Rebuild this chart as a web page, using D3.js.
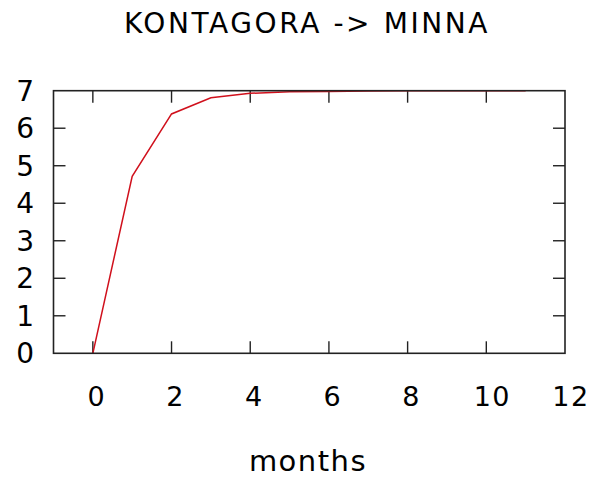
<!DOCTYPE html>
<html>
<head>
<meta charset="utf-8">
<script src="https://cdn.jsdelivr.net/npm/d3@7"></script>
<style>
  body { margin: 0; background: #fff; }
  text { font-family: "DejaVu Sans", Verdana, sans-serif; fill: #000; }
</style>
</head>
<body>
<script>
// data
var months = [0, 1, 2, 3, 4, 5, 6, 7, 8, 9, 10, 11];
var values = [0, 4.72, 6.38, 6.81, 6.93, 6.97, 6.98, 6.99, 7, 7, 7, 7];
var xTicks = [0, 2, 4, 6, 8, 10, 12];
var yTicks = [0, 1, 2, 3, 4, 5, 6, 7];

var width = 594, height = 477;
var margin = { top: 90.7, right: 29, bottom: 123.7, left: 53.5 };

var svg = d3.select("body").append("svg")
    .attr("width", width)
    .attr("height", height);

var x = d3.scaleLinear().domain([-1, 12]).range([margin.left, width - margin.right]);
var y = d3.scaleLinear().domain([0, 7]).range([height - margin.bottom, margin.top]);

var tickLen = 12;

// inward ticks, top and bottom (skip the ones on the border)
xTicks.filter(function(d) { return d > -1 && d < 12; }).forEach(function(d) {
    svg.append("line")
        .attr("x1", x(d)).attr("x2", x(d))
        .attr("y1", y(0)).attr("y2", y(0) - tickLen)
        .attr("stroke", "#222").attr("stroke-width", 1.4);
    svg.append("line")
        .attr("x1", x(d)).attr("x2", x(d))
        .attr("y1", y(7)).attr("y2", y(7) + tickLen)
        .attr("stroke", "#222").attr("stroke-width", 1.4);
});
yTicks.filter(function(d) { return d > 0 && d < 7; }).forEach(function(d) {
    svg.append("line")
        .attr("x1", x(-1)).attr("x2", x(-1) + tickLen)
        .attr("y1", y(d)).attr("y2", y(d))
        .attr("stroke", "#222").attr("stroke-width", 1.4);
    svg.append("line")
        .attr("x1", x(12)).attr("x2", x(12) - tickLen)
        .attr("y1", y(d)).attr("y2", y(d))
        .attr("stroke", "#222").attr("stroke-width", 1.4);
});

// tick labels
svg.selectAll(".xlab").data(xTicks).enter().append("text")
    .attr("class", "xlab")
    .attr("x", function(d) { return x(d) + 4 + (d >= 10 ? 2 : 0); })
    .attr("y", 406)
    .attr("text-anchor", "middle")
    .style("font-size", "27px")
    .style("letter-spacing", "1.5px")
    .text(function(d) { return d; });

svg.selectAll(".ylab").data(yTicks).enter().append("text")
    .attr("class", "ylab")
    .attr("x", 34)
    .attr("y", function(d) { return y(d) + 10; })
    .attr("text-anchor", "end")
    .style("font-size", "28px")
    .text(function(d) { return d; });

// the line
var line = d3.line()
    .x(function(d, i) { return x(months[i]); })
    .y(function(d) { return y(d); });

svg.append("path")
    .datum(values)
    .attr("fill", "none")
    .attr("stroke", "#d0101c")
    .attr("stroke-width", 1.5)
    .attr("d", line);

// border
svg.append("rect")
    .attr("x", x(-1)).attr("y", y(7))
    .attr("width", x(12) - x(-1)).attr("height", y(0) - y(7))
    .attr("fill", "none")
    .attr("stroke", "#222").attr("stroke-width", 1.6);

// title and axis label
svg.append("text")
    .attr("x", 307).attr("y", 33)
    .attr("text-anchor", "middle")
    .style("font-size", "28px")
    .style("letter-spacing", "2.6px")
    .text("KONTAGORA -> MINNA");

svg.append("text")
    .attr("x", 308).attr("y", 471)
    .attr("text-anchor", "middle")
    .style("font-size", "29px")
    .style("letter-spacing", "1.5px")
    .text("months");
</script>
</body>
</html>
